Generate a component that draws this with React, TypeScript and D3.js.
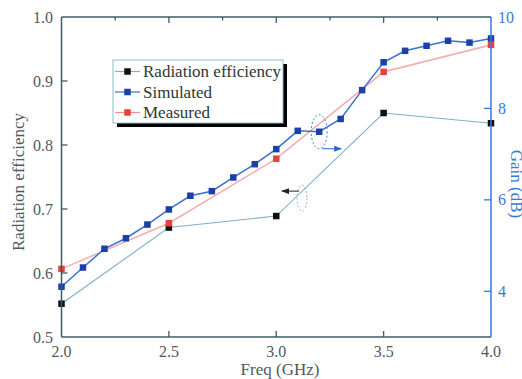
import React from "react";
import * as d3 from "d3";

const freqSim = [2.0, 2.1, 2.2, 2.3, 2.4, 2.5, 2.6, 2.7, 2.8, 2.9, 3.0, 3.1, 3.2, 3.3, 3.4, 3.5, 3.6, 3.7, 3.8, 3.9, 4.0];
const gainSim = [4.1, 4.52, 4.93, 5.16, 5.46, 5.79, 6.09, 6.19, 6.49, 6.78, 7.11, 7.51, 7.49, 7.77, 8.4, 9.01, 9.26, 9.37, 9.48, 9.44, 9.53];
const freqMeas = [2.0, 2.5, 3.0, 3.5, 4.0];
const gainMeas = [4.49, 5.49, 6.9, 8.8, 9.39];
const effVals = [0.552, 0.671, 0.689, 0.85, 0.834];
const xTicks = [2.0, 2.5, 3.0, 3.5, 4.0];
const xMinorTicks = [2.25, 2.75, 3.25, 3.75];
const effTicks = [0.5, 0.6, 0.7, 0.8, 0.9, 1.0];
const gainTicks = [4, 6, 8, 10];
const legendLabels = ["Radiation efficiency", "Simulated", "Measured"];

const W = 522, H = 379;
const L = 61.5, R = 491, T = 17, B = 337;
const FS = { fontFamily: '"Liberation Serif"' };
const FRAME = "#3f5c66";
const BLUE_AX = "#3a78d8";
const LABEL = "#505a5a";

export default function App() {
  const x = d3.scaleLinear().domain([2, 4]).range([L, R]);
  const yE = d3.scaleLinear().domain([0.5, 1.0]).range([B, T]);
  const yG = d3.scaleLinear().domain([3, 10]).range([B, T]);

  const simLine = d3.line<number>().x((_, i) => x(freqSim[i])).y((d) => yG(d))(gainSim) || "";
  const measLine = d3.line<number>().x((_, i) => x(freqMeas[i])).y((d) => yG(d))(gainMeas) || "";
  const effLine = d3.line<number>().x((_, i) => x(freqMeas[i])).y((d) => yE(d))(effVals) || "";

  const ms = 6.5;
  const sq = (cx: number, cy: number, fill: string, key: string) => (
    <rect key={key} x={cx - ms / 2} y={cy - ms / 2} width={ms} height={ms} fill={fill} />
  );

  const e1x = x(3.2), e1y = yG(7.49);
  const e2x = x(3.12), e2y = yE(0.717);

  const legX = 113, legY = 60, legW = 170, legH = 63;
  const legColors = [
    { line: "#7fb0c8", mk: "#111" },
    { line: "#3b6fd6", mk: "#1c3faa" },
    { line: "#f08f8f", mk: "#e8403a" },
  ];

  return (
    <svg width={W} height={H} style={{ position: "absolute", left: 0, top: 0, background: "#fff" }}>
      <defs>
        <marker id="ahB" markerWidth="8" markerHeight="6" refX="7" refY="3" orient="auto" markerUnits="userSpaceOnUse">
          <path d="M0,0 L8,3 L0,6 Z" fill="#2e62d0" />
        </marker>
        <marker id="ahK" markerWidth="8" markerHeight="6" refX="7" refY="3" orient="auto" markerUnits="userSpaceOnUse">
          <path d="M0,0 L8,3 L0,6 Z" fill="#222" />
        </marker>
      </defs>

      <path d={effLine} fill="none" stroke="#7fb0c8" strokeWidth={1.1} />
      <path d={measLine} fill="none" stroke="#f4b0b0" strokeWidth={1.6} />
      <path d={simLine} fill="none" stroke="#3b6fd6" strokeWidth={1.5} />
      {effVals.map((v, i) => sq(x(freqMeas[i]), yE(v), "#111", "e" + i))}
      {gainMeas.map((v, i) => sq(x(freqMeas[i]), yG(v), "#e8403a", "m" + i))}
      {gainSim.map((v, i) => sq(x(freqSim[i]), yG(v), "#1c3faa", "s" + i))}

      <ellipse cx={e1x} cy={e1y} rx={8} ry={17} fill="none" stroke="#4a80e0" strokeWidth={1} strokeDasharray="2,2" />
      <line x1={e1x + 3} y1={e1y + 17} x2={e1x + 22} y2={e1y + 17} stroke="#2e62d0" strokeWidth={1} markerEnd="url(#ahB)" />
      <ellipse cx={e2x} cy={e2y} rx={5} ry={13} fill="none" stroke="#8ab0e8" strokeWidth={1} strokeDasharray="2,2" />
      <line x1={e2x - 3} y1={e2y - 7} x2={e2x - 20} y2={e2y - 7} stroke="#222" strokeWidth={1} markerEnd="url(#ahK)" />

      <line x1={L} y1={T} x2={R} y2={T} stroke={FRAME} strokeWidth={1.5} />
      <line x1={L} y1={B} x2={R} y2={B} stroke={FRAME} strokeWidth={1.5} />
      <line x1={L} y1={T} x2={L} y2={B} stroke={FRAME} strokeWidth={1.5} />
      <line x1={R} y1={T} x2={R} y2={B} stroke={BLUE_AX} strokeWidth={1.5} />

      {xTicks.slice(1, -1).map((t) => (
        <g key={"xt" + t}>
          <line x1={x(t)} x2={x(t)} y1={B} y2={B - 6} stroke={FRAME} strokeWidth={1.3} />
          <line x1={x(t)} x2={x(t)} y1={T} y2={T + 6} stroke={FRAME} strokeWidth={1.3} />
        </g>
      ))}
      {xMinorTicks.map((t) => (
        <line key={"xm" + t} x1={x(t)} x2={x(t)} y1={T} y2={T + 3.5} stroke={FRAME} strokeWidth={1.3} />
      ))}
      {xTicks.map((t) => (
        <text key={"xl" + t} x={x(t)} y={357} textAnchor="middle" fontSize={16} fill={LABEL} style={FS}>
          {t.toFixed(1)}
        </text>
      ))}

      {effTicks.map((t) => (
        <g key={"yl" + t}>
          {t > 0.5 && t < 1.0 && <line x1={L} x2={L + 6} y1={yE(t)} y2={yE(t)} stroke={FRAME} strokeWidth={1.3} />}
          <text x={53} y={yE(t) + 5.5} textAnchor="end" fontSize={16} fill={LABEL} style={FS}>
            {t.toFixed(1)}
          </text>
        </g>
      ))}

      {gainTicks.map((t) => (
        <g key={"yr" + t}>
          {t < 10 && <line x1={R} x2={R - 7} y1={yG(t)} y2={yG(t)} stroke={BLUE_AX} strokeWidth={1.3} />}
          <text x={498} y={yG(t) + 5.5} textAnchor="start" fontSize={16} fill={BLUE_AX} style={FS}>
            {t}
          </text>
        </g>
      ))}

      <text x={280} y={375} textAnchor="middle" fontSize={17} fill={LABEL} style={FS}>Freq (GHz)</text>
      <text transform={`translate(24,182) rotate(-90)`} textAnchor="middle" fontSize={17} fill={LABEL} style={FS}>Radiation efficiency</text>
      <text transform={`translate(511,184) rotate(90)`} textAnchor="middle" fontSize={17} fill={BLUE_AX} style={FS}>Gain (dB)</text>

      <rect x={legX + 4} y={legY + 4} width={legW} height={legH} fill="#000" />
      <rect x={legX} y={legY} width={legW} height={legH} fill="#fff" stroke="#8cbccc" strokeWidth={1} />
      {legendLabels.map((lab, i) => {
        const cy = 71.5 + i * 20.5;
        return (
          <g key={lab}>
            <line x1={115} x2={140} y1={cy} y2={cy} stroke={legColors[i].line} strokeWidth={1.2} />
            {sq(127.5, cy, legColors[i].mk, "lg" + i)}
            <text x={143} y={cy + 5.5} fontSize={17} fill="#2a3838" style={FS}>{lab}</text>
          </g>
        );
      })}
    </svg>
  );
}
